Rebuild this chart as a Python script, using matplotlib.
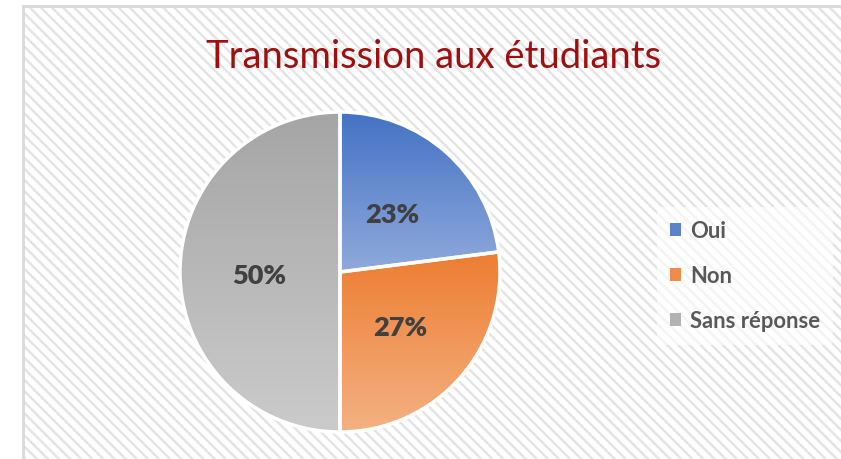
import numpy as np
import matplotlib
matplotlib.use("Agg")
import matplotlib.pyplot as plt
from matplotlib.patches import Rectangle, Patch
from matplotlib.colors import LinearSegmentedColormap

categories = ["Oui", "Non", "Sans réponse"]
values = [23, 27, 50]
labels = ["23%", "27%", "50%"]
title = "Transmission aux étudiants"

top_colors = ["#4472C4", "#ED7D31", "#A5A5A5"]
bottom_colors = ["#8FAADC", "#F4B183", "#CBCBCB"]
mid_colors = ["#5B83CC", "#EF8C4C", "#B2B2B2"]

plt.rcParams['font.family'] = ['Lato', 'DejaVu Sans']
plt.rcParams['hatch.linewidth'] = 1.7

W, H = 841, 460
fig = plt.figure(figsize=(W / 100, H / 100), dpi=100)
fig.patch.set_facecolor("white")

# background hatched chart area
bg = Rectangle((23 / W, -0.05), 1.1, (H - 7) / H + 0.05, transform=fig.transFigure,
               facecolor="white", edgecolor="#E4E4E4", lw=0, hatch="\\\\\\", zorder=-2)
fig.patches.append(bg)
border = Rectangle((23 / W, -0.05), 1.1, (H - 7) / H + 0.05, transform=fig.transFigure,
                   facecolor="none", edgecolor="#D9D9D9", lw=2, zorder=-1)
fig.patches.append(border)

# pie axes
cx, cy, r = 340, 273, 160
ax = fig.add_axes([(cx - r) / W, (H - cy - r) / H, 2 * r / W, 2 * r / H])
ax.patch.set_alpha(0)

wedges, _ = ax.pie(values, startangle=90, counterclock=False, radius=1,
                   colors=mid_colors,
                   wedgeprops=dict(edgecolor="white", linewidth=2.5))
ax.set_aspect("equal")
ax.axis("off")

for w, tc, bc in zip(wedges, top_colors, bottom_colors):
    verts = w.get_path().vertices
    pts = w.get_patch_transform().transform(verts)
    x0, x1 = pts[:, 0].min(), pts[:, 0].max()
    y0, y1 = pts[:, 1].min(), pts[:, 1].max()
    cmap = LinearSegmentedColormap.from_list("g", [bc, tc])
    grad = np.linspace(0, 1, 256).reshape(-1, 1)
    im = ax.imshow(grad, cmap=cmap, extent=[x0, x1, y0, y1], origin="lower",
                   aspect="auto", zorder=1)
    im.set_clip_path(w)
    w.set_facecolor("none")
    w.set_zorder(2)

ax.set_xlim(-1, 1)
ax.set_ylim(-1, 1)

# data labels
label_px = [(392, 215), (400, 328), (259, 276)]
for lab, (lx, ly) in zip(labels, label_px):
    fig.text(lx / W, 1 - ly / H, lab, ha="center", va="center", fontsize=19.5,
             fontweight="heavy", color="#404040", zorder=5)

fig.text(434 / W, 1 - 68 / H, title, ha="center", va="baseline", fontsize=27.5,
         color="#A00E0E")

handles = [Patch(facecolor=c, edgecolor="none") for c in mid_colors]
leg = fig.legend(handles, categories, loc="upper left",
                 bbox_to_anchor=(657 / W, 1 - 208 / H), frameon=True,
                 borderaxespad=0,
                 handlelength=0.5, handleheight=0.5, handletextpad=0.4,
                 labelspacing=1.1, borderpad=0.6,
                 prop=dict(family=['Lato', 'DejaVu Sans'], weight="bold", size=15.8))
leg.get_frame().set_facecolor("white")
leg.get_frame().set_alpha(0.6)
leg.get_frame().set_edgecolor("none")
for t in leg.get_texts():
    t.set_color("#595959")

fig.savefig("out.png", dpi=100)
